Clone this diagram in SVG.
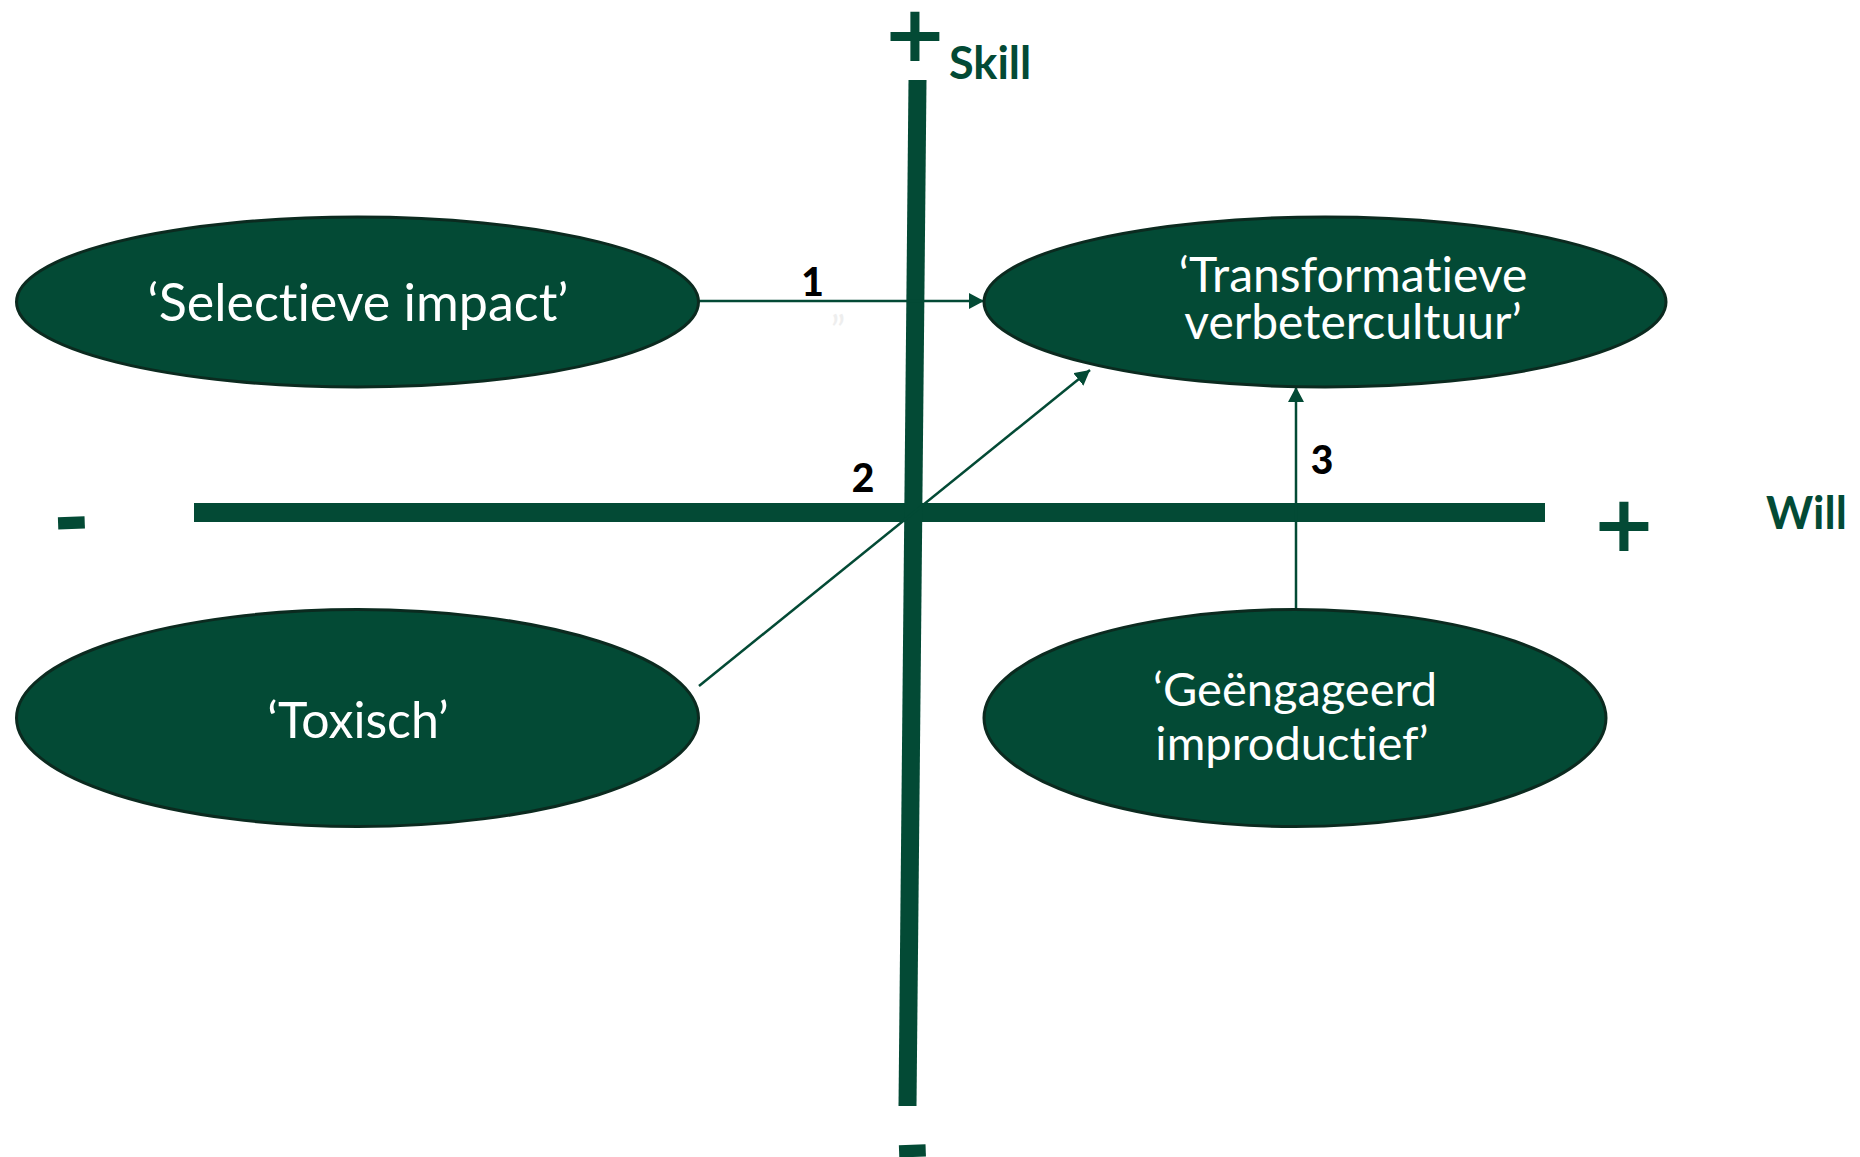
<svg xmlns="http://www.w3.org/2000/svg" width="1860" height="1157" viewBox="0 0 1860 1157">
<style>
.node{fill:#034a35;stroke:#0b2a1f;stroke-width:3}
.lbl{font-family:Lato,"Open Sans",sans-serif;fill:#ffffff;text-anchor:middle;font-variant-ligatures:none;font-feature-settings:"liga" 0}
.axis{stroke:#034a35;fill:none}
.sign{font-family:"DejaVu Sans",sans-serif;font-weight:bold;fill:#034a35;text-anchor:middle}
.axlbl{font-family:Lato,"Open Sans",sans-serif;font-weight:bold;fill:#034a35}
.num{font-family:Lato,"Open Sans",sans-serif;font-weight:900;fill:#000000;text-anchor:middle;font-size:39px}
.conn{stroke:#034a35;stroke-width:2.5;fill:none;marker-end:url(#arr)}
</style>
<defs>
<marker id="arr" markerUnits="userSpaceOnUse" markerWidth="16" markerHeight="16" refX="15" refY="8" orient="auto">
<path d="M0,0 L15,8 L0,16 z" fill="#034a35"/>
</marker>
</defs>
<rect width="1860" height="1157" fill="#ffffff"/>
<g id="axes">
<line class="axis" x1="194" y1="512.5" x2="1545" y2="512.5" stroke-width="19"/>
<line class="axis" x1="917.5" y1="80" x2="907.5" y2="1106" stroke-width="18"/>
<text class="sign" x="915" y="61" font-size="78">+</text>
<text class="sign" x="1624" y="551" font-size="78">+</text>
<text class="sign" x="71.5" y="548" font-size="87" transform="rotate(-2 71.5 522)">-</text>
<text class="sign" x="912.5" y="1176" font-size="87" transform="rotate(-2 912.5 1150)">-</text>
<text class="axlbl" x="949" y="79" font-size="45">Skill</text>
<text class="axlbl" x="1766" y="529" font-size="45">Will</text>
</g>
<g id="connectors">
<line class="conn" x1="699" y1="301" x2="984" y2="301"/>
<line class="conn" x1="699" y1="686" x2="1090" y2="370"/>
<line class="conn" x1="1296" y1="610" x2="1296" y2="387"/>
<text class="num" x="812.5" y="296">1</text>
<text x="838" y="345" font-family="Lato,'Open Sans',sans-serif" font-size="40" fill="#eeeeee" text-anchor="middle">”</text>
<text class="num" x="863" y="492">2</text>
<text class="num" x="1322" y="474">3</text>
</g>
<g id="node-selectieve">
<ellipse class="node" cx="357.5" cy="302" rx="341" ry="85"/>
<text class="lbl" x="358" y="321" font-size="52">‘Selectieve impact’</text>
</g>
<g id="node-transformatieve">
<ellipse class="node" cx="1325" cy="302" rx="341" ry="85"/>
<text class="lbl" x="1353" y="292" font-size="48">‘Transformatieve</text>
<text class="lbl" x="1353" y="339" font-size="48">verbetercultuur’</text>
</g>
<g id="node-toxisch">
<ellipse class="node" cx="357.5" cy="718" rx="341" ry="108.5"/>
<text class="lbl" x="358" y="738" font-size="50">‘Toxisch’</text>
</g>
<g id="node-geengageerd">
<ellipse class="node" cx="1295" cy="718" rx="311" ry="108.5"/>
<text class="lbl" x="1295" y="706" font-size="47">‘Geëngageerd</text>
<text class="lbl" x="1292" y="760" font-size="47">improductief’</text>
</g>
</svg>
